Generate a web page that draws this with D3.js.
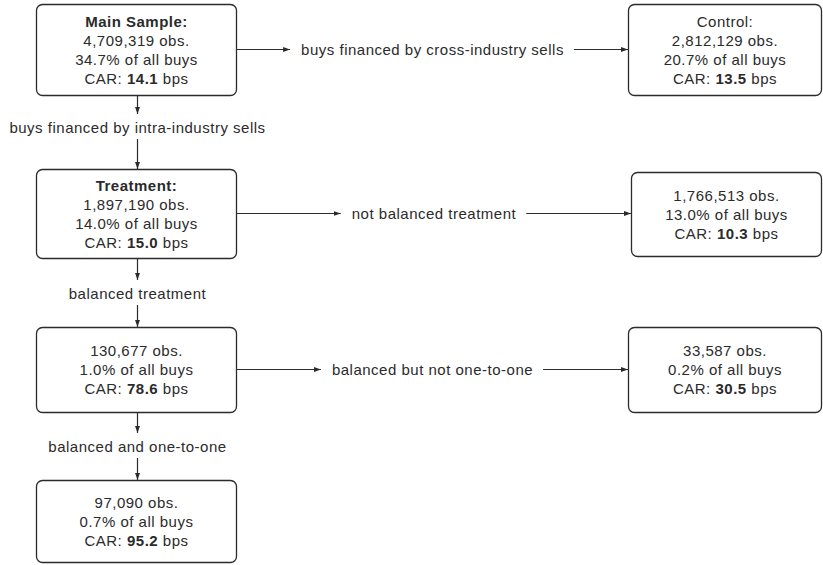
<!DOCTYPE html>
<html>
<head>
<meta charset="utf-8">
<script src="https://cdn.jsdelivr.net/npm/d3@7"></script>
<style>
  body { margin: 0; background: #fff; }
  svg { display: block; font-family: "Liberation Sans", Arial, Helvetica, sans-serif; }
  svg text { font-size: 15px; letter-spacing: 0.5px; }
</style>
</head>
<body>
<div id="chart"></div>
<script>
// left column (the chain of filters)
const stageTitles = ["Main Sample:", "Treatment:", "", ""];
const stageObs = ["4,709,319", "1,897,190", "130,677", "97,090"];
const stagePct = ["34.7%", "14.0%", "1.0%", "0.7%"];
const stageCar = ["14.1", "15.0", "78.6", "95.2"];
const stepLabels = ["buys financed by intra-industry sells", "balanced treatment", "balanced and one-to-one"];

// right column (what is split off)
const branchTitles = ["Control:", "", ""];
const branchObs = ["2,812,129", "1,766,513", "33,587"];
const branchPct = ["20.7%", "13.0%", "0.2%"];
const branchCar = ["13.5", "10.3", "30.5"];
const branchLabels = ["buys financed by cross-industry sells", "not balanced treatment", "balanced but not one-to-one"];

// layout
const W = 823, H = 565;
const leftX = [36, 237];
const leftRows = [[4, 96], [169, 259], [327, 413], [480, 563]];
const rightRows = [[4, 96], [172, 257], [327, 413]];
const rightX = [[628, 822], [631, 822], [628, 822]];
const stepLabelY = [128, 294, 447];
const lineH = 19;
const ink = "#2b2b2b";

const svg = d3.select("#chart").append("svg")
    .attr("width", W)
    .attr("height", H);

svg.append("defs").append("marker")
    .attr("id", "arr")
    .attr("viewBox", "0 0 10 10")
    .attr("refX", 10)
    .attr("refY", 5)
    .attr("markerWidth", 7)
    .attr("markerHeight", 7)
    .attr("markerUnits", "userSpaceOnUse")
    .attr("orient", "auto")
    .append("path")
    .attr("d", "M0,1.5 L10,5 L0,8.5 z")
    .attr("fill", ink);

function box(x0, x1, y0, y1, title, obs, pct, car, bold) {
    const g = svg.append("g");
    g.append("rect")
        .attr("x", x0 + 0.5).attr("y", y0 + 0.5)
        .attr("width", x1 - x0 - 1).attr("height", y1 - y0 - 1)
        .attr("rx", 6).attr("ry", 6)
        .attr("fill", "#fff")
        .attr("stroke", ink)
        .attr("stroke-width", 1.3);
    const lines = [];
    if (title) lines.push({ t: title, type: "title" });
    lines.push({ t: obs + " obs.", type: "plain" });
    lines.push({ t: pct + " of all buys", type: "plain" });
    lines.push({ t: car, type: "car" });
    const cx = (x0 + x1) / 2, cy = (y0 + y1) / 2;
    const yScale = d3.scaleLinear()
        .domain([0, lines.length - 1])
        .range([cy - (lines.length - 1) * lineH / 2, cy + (lines.length - 1) * lineH / 2]);
    lines.forEach((l, i) => {
        const t = g.append("text")
            .attr("x", cx)
            .attr("y", yScale(i))
            .attr("dy", "0.35em")
            .attr("text-anchor", "middle")
            .attr("fill", ink);
        if (l.type === "title") {
            t.text(l.t).attr("font-weight", bold ? "bold" : "normal");
        } else if (l.type === "car") {
            t.append("tspan").text("CAR: ");
            t.append("tspan").attr("font-weight", "bold").text(l.t);
            t.append("tspan").text(" bps");
        } else {
            t.text(l.t);
        }
    });
}

stageObs.forEach((d, i) => {
    box(leftX[0], leftX[1], leftRows[i][0], leftRows[i][1],
        stageTitles[i], stageObs[i], stagePct[i], stageCar[i], true);
});
branchObs.forEach((d, i) => {
    box(rightX[i][0], rightX[i][1], rightRows[i][0], rightRows[i][1],
        branchTitles[i], branchObs[i], branchPct[i], branchCar[i], false);
});

// vertical steps
const colX = Math.round((leftX[0] + leftX[1]) / 2) + 0.5;
stepLabels.forEach((lab, i) => {
    const ly = stepLabelY[i];
    svg.append("line")
        .attr("x1", colX).attr("x2", colX)
        .attr("y1", leftRows[i][1]).attr("y2", ly - 14)
        .attr("stroke", ink).attr("stroke-width", 1.2)
        .attr("marker-end", "url(#arr)");
    svg.append("text")
        .attr("x", colX).attr("y", ly).attr("dy", "0.35em")
        .attr("text-anchor", "middle")
        .attr("fill", ink)
        .text(lab);
    svg.append("line")
        .attr("x1", colX).attr("x2", colX)
        .attr("y1", ly + 11).attr("y2", leftRows[i + 1][0])
        .attr("stroke", ink).attr("stroke-width", 1.2)
        .attr("marker-end", "url(#arr)");
});

// horizontal branches
branchLabels.forEach((lab, i) => {
    const y = Math.round((leftRows[i][0] + leftRows[i][1]) / 2) - 0.5;
    const x0 = leftX[1], x1 = rightX[i][0];
    const mid = (x0 + x1) / 2;
    const t = svg.append("text")
        .attr("x", mid).attr("y", y).attr("dy", "0.35em")
        .attr("text-anchor", "middle")
        .attr("fill", ink)
        .text(lab);
    const w = t.node().getComputedTextLength();
    svg.append("line")
        .attr("x1", x0).attr("x2", mid - w / 2 - 11)
        .attr("y1", y).attr("y2", y)
        .attr("stroke", ink).attr("stroke-width", 1.2)
        .attr("marker-end", "url(#arr)");
    svg.append("line")
        .attr("x1", mid + w / 2 + 10).attr("x2", x1)
        .attr("y1", y).attr("y2", y)
        .attr("stroke", ink).attr("stroke-width", 1.2)
        .attr("marker-end", "url(#arr)");
});
</script>
</body>
</html>
